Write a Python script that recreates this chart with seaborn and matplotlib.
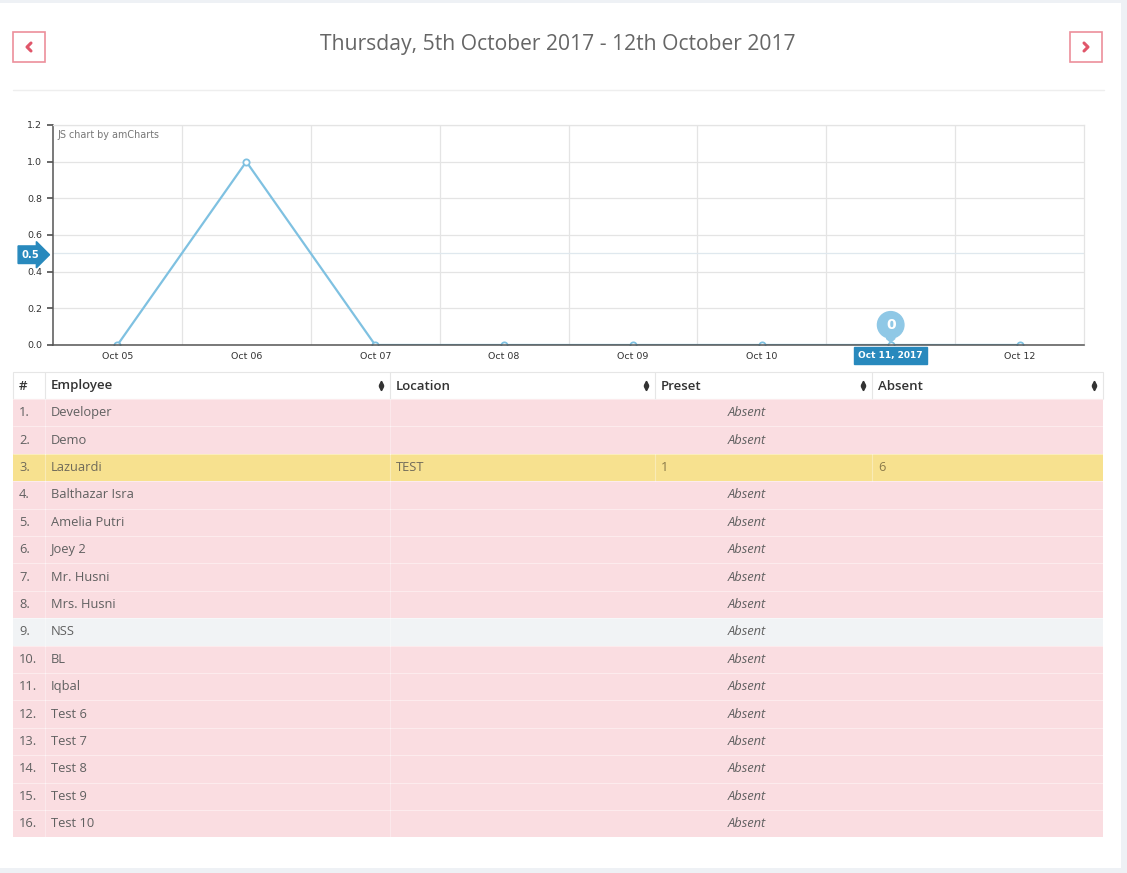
import matplotlib
matplotlib.use("Agg")
import matplotlib.pyplot as plt
from matplotlib.patches import Rectangle
import seaborn as sns
import pandas as pd

# ---- data ----
title = "Thursday, 5th October 2017 - 12th October 2017"
days = ["Oct 05", "Oct 06", "Oct 07", "Oct 08", "Oct 09", "Oct 10", "Oct 11", "Oct 12"]
present = [0, 1, 0, 0, 0, 0, 0, 0]
y_ticks = [0.0, 0.2, 0.4, 0.6, 0.8, 1.0, 1.2]
cursor_value = 0.5
cursor_day = "Oct 11"
cursor_day_label = "Oct 11, 2017"

headers = ["#", "Employee", "Location", "Preset", "Absent"]
employees = ["Developer", "Demo", "Lazuardi", "Balthazar Isra", "Amelia Putri", "Joey 2",
             "Mr. Husni", "Mrs. Husni", "NSS", "BL", "Iqbal", "Test 6", "Test 7",
             "Test 8", "Test 9", "Test 10"]
locations = ["", "", "TEST", "", "", "", "", "", "", "", "", "", "", "", "", ""]
preset_counts = [None, None, 1, None, None, None, None, None, None, None, None, None, None, None, None, None]
absent_counts = [None, None, 6, None, None, None, None, None, None, None, None, None, None, None, None, None]
row_status = ["danger", "danger", "warning", "danger", "danger", "danger", "danger", "danger",
              "none", "danger", "danger", "danger", "danger", "danger", "danger", "danger"]

# ---- styling ----
W, H = 1127, 873
PAGE_BG = "#eef1f5"
LINE_BLUE = "#7fc1e1"
TAG_BLUE = "#2889bd"
RED = "#e0566a"
ROW_COLORS = {"danger": "#fadde1", "warning": "#f7e18f", "none": "#f1f3f5"}
TEXT = "#606060"
TABLE_FONT = ["Open Sans", "DejaVu Sans"]

sns.set_theme(style="white")
plt.rcParams["font.family"] = ["DejaVu Sans"]

fig = plt.figure(figsize=(W / 100, H / 100), dpi=100)
fig.patch.set_facecolor(PAGE_BG)

# page layer in pixel coordinates
page = fig.add_axes([0, 0, 1, 1])
page.set_xlim(0, W)
page.set_ylim(H, 0)
page.axis("off")
page.set_zorder(0)

page.add_patch(Rectangle((0, 3), 1121, 865, facecolor="white", edgecolor="none"))

# navigation buttons
for bx, direction in [(13, -1), (1070, 1)]:
    page.add_patch(Rectangle((bx, 32), 32, 30, facecolor="white", edgecolor="#ec8f9b", lw=1.2))
    cx, cy = bx + 16, 47
    page.plot([cx - 2 * direction, cx + 2 * direction, cx - 2 * direction],
              [cy - 4, cy, cy + 4], color=RED, lw=2.2, solid_capstyle="round")

page.text(558, 44.5, title, ha="center", va="center", fontsize=15.2, color="#666666",
          family=TABLE_FONT)
page.plot([13, 1104], [90, 90], color="#eeeeee", lw=1)

# ---- chart ----
left, right, top, bottom = 53, 1084, 125, 345
ax = fig.add_axes([left / W, 1 - bottom / H, (right - left) / W, (bottom - top) / H])
ax.set_zorder(2)
ax.patch.set_alpha(0)

df = pd.DataFrame({"day": days, "present": present})
sns.lineplot(data=df, x="day", y="present", ax=ax, color=LINE_BLUE, lw=1.6,
             marker="o", markersize=4.5, markerfacecolor="white",
             markeredgecolor=LINE_BLUE, markeredgewidth=1.3)

ci = days.index(cursor_day)
ax.set_xlim(-0.5, len(days) - 0.5)
ax.set_ylim(y_ticks[0], y_ticks[-1])
ax.set_yticks(y_ticks)
ax.set_yticklabels([f"{v:.1f}" for v in y_ticks])
ax.set_xticks(range(len(days)))
# the hovered day's label sits under the cursor tag
ax.set_xticklabels(["" if i == ci else d for i, d in enumerate(days)])
ax.set_xticks([i + 0.5 for i in range(len(days) - 1)], minor=True)
ax.set_xlabel("")
ax.set_ylabel("")
ax.tick_params(axis="x", which="major", length=0, pad=5, labelsize=6.8, labelcolor="#333333")
ax.tick_params(axis="x", which="minor", length=4, color="#888888", direction="out")
ax.tick_params(axis="y", which="major", length=4, color="#555555", labelsize=6.8,
               labelcolor="#333333", left=True, pad=4)
ax.grid(axis="y", which="major", color="#e4e4e4", lw=0.9)
ax.grid(axis="x", which="minor", color="#e4e4e4", lw=0.9)
ax.set_axisbelow(True)
for side in ["top", "right"]:
    ax.spines[side].set_color("#e4e4e4")
    ax.spines[side].set_linewidth(0.9)
for side in ["left", "bottom"]:
    ax.spines[side].set_color("#555555")
    ax.spines[side].set_linewidth(1.1)

ax.text(0.004, 0.975, "JS chart by amCharts", transform=ax.transAxes, fontsize=6.9,
        color="#777777", va="top", ha="left", family=["DejaVu Sans"])

# value cursor
ax.axhline(cursor_value, color="#dfe8ee", lw=0.9, zorder=1)
ax.annotate(f"{cursor_value}", xy=(0, cursor_value), xycoords=("axes fraction", "data"),
            xytext=(-16, -1), textcoords="offset points", ha="center", va="center",
            fontsize=7.2, color="white", fontweight="bold",
            bbox=dict(boxstyle="rarrow,pad=0.38", fc=TAG_BLUE, ec=TAG_BLUE),
            annotation_clip=False)

# category cursor
ax.annotate(cursor_day_label, xy=(ci, 0), xycoords="data", xytext=(0, -7.5),
            textcoords="offset points", ha="center", va="center", fontsize=6.5,
            color="white", fontweight="bold",
            bbox=dict(boxstyle="square,pad=0.45", fc=TAG_BLUE, ec=TAG_BLUE),
            annotation_clip=False)
ax.annotate(f"{present[ci]}", xy=(ci, present[ci]), xycoords="data", xytext=(0, 14.5),
            textcoords="offset points", ha="center", va="center", fontsize=10,
            color="white", fontweight="bold",
            bbox=dict(boxstyle="circle,pad=0.45", fc="#8fc8e6", ec="#8fc8e6"),
            arrowprops=dict(arrowstyle="wedge,tail_width=0.6", fc="#8fc8e6", ec="#8fc8e6",
                            shrinkA=0, shrinkB=2),
            annotation_clip=False)

# ---- table ----
col_edges = [13, 45, 390, 655, 872, 1103]
head_top, head_bot = 372, 399
row_h = 27.4
grid_c = "#e6e6e6"

page.add_patch(Rectangle((col_edges[0], head_top), col_edges[-1] - col_edges[0],
                         head_bot - head_top, facecolor="white", edgecolor=grid_c, lw=0.8))
for xe in col_edges[1:-1]:
    page.plot([xe, xe], [head_top, head_bot], color=grid_c, lw=0.8)
for i, h in enumerate(headers):
    page.text(col_edges[i] + 6, (head_top + head_bot) / 2 + 0.5, h, ha="left", va="center",
              fontsize=9.5, color="#333333", fontweight="semibold", family=TABLE_FONT)
    if i > 0:
        sx = col_edges[i + 1] - 9
        page.plot([sx], [383], marker="^", ms=3.2, color="#333333", lw=0)
        page.plot([sx], [388], marker="v", ms=3.2, color="#333333", lw=0)

for r, name in enumerate(employees):
    y0 = head_bot + r * row_h
    yc = y0 + row_h / 2
    status = row_status[r]
    page.add_patch(Rectangle((col_edges[0], y0), col_edges[-1] - col_edges[0], row_h,
                             facecolor=ROW_COLORS[status], edgecolor="none"))
    page.plot([col_edges[0], col_edges[-1]], [y0, y0], color="white", lw=0.6, alpha=0.5)
    body_c = "#6f6a5a" if status == "warning" else TEXT
    page.text(col_edges[0] + 6, yc, f"{r + 1}.", ha="left", va="center", fontsize=9.3,
              color=body_c, family=TABLE_FONT)
    page.text(col_edges[1] + 6, yc, name, ha="left", va="center", fontsize=9.3,
              color=body_c, family=TABLE_FONT)
    for xe in col_edges[1:3]:
        page.plot([xe, xe], [y0, y0 + row_h], color="white", lw=0.8, alpha=0.35)
    if preset_counts[r] is None:
        page.text((col_edges[2] + col_edges[5]) / 2, yc, "Absent", ha="center", va="center",
                  fontsize=9.3, color=TEXT, style="italic", family=TABLE_FONT)
    else:
        for xe in col_edges[3:5]:
            page.plot([xe, xe], [y0, y0 + row_h], color="white", lw=0.8, alpha=0.35)
        page.text(col_edges[2] + 6, yc, locations[r], ha="left", va="center", fontsize=9.3,
                  color=body_c, family=TABLE_FONT)
        page.text(col_edges[3] + 6, yc, str(preset_counts[r]), ha="left", va="center",
                  fontsize=9.3, color="#8a7a4a", family=TABLE_FONT)
        page.text(col_edges[4] + 6, yc, str(absent_counts[r]), ha="left", va="center",
                  fontsize=9.3, color="#8a7a4a", family=TABLE_FONT)

fig.savefig("out.png", dpi=100, facecolor=fig.get_facecolor())
